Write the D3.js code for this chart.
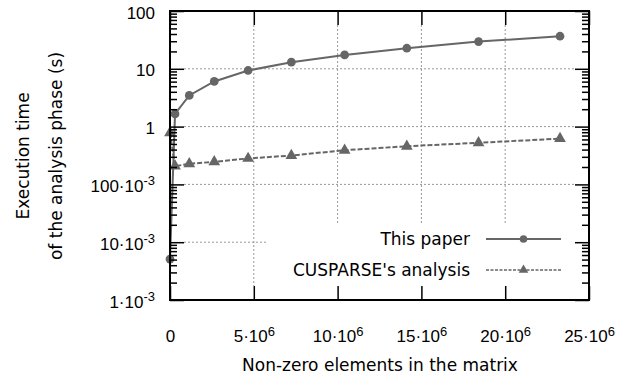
<!DOCTYPE html>
<html>
<head>
<meta charset="utf-8">
<script src="https://cdn.jsdelivr.net/npm/d3@7"></script>
<style>
  html, body { margin: 0; padding: 0; background: #fff; }
  svg { display: block; font-family: "DejaVu Sans", sans-serif; }
</style>
</head>
<body>
<svg id="chart" width="633" height="381"></svg>
<script>
// chart data
const nnz = [0, 0.3e6, 1.15e6, 2.64e6, 4.66e6, 7.24e6, 10.42e6, 14.13e6, 18.41e6, 23.27e6];
const thisPaper = [0.0051, 1.66, 3.46, 6.04, 9.35, 13.0, 17.4, 22.7, 29.6, 36.6];
const cusparse = [0.78, 0.207, 0.227, 0.246, 0.281, 0.316, 0.39, 0.457, 0.524, 0.62];
const seriesNames = ["This paper", "CUSPARSE's analysis"];

const xTicks = [0, 5e6, 10e6, 15e6, 20e6, 25e6];
const xTickLabels = [["0", ""], ["5·10", "6"], ["10·10", "6"], ["15·10", "6"], ["20·10", "6"], ["25·10", "6"]];
const yTicks = [1e-3, 1e-2, 1e-1, 1, 10, 100];
const yTickLabels = [["1·10", "-3"], ["10·10", "-3"], ["100·10", "-3"], ["1", ""], ["10", ""], ["100", ""]];

const svg = d3.select("#chart");
const plotL = 170, plotR = 589, plotT = 11, plotB = 300;
const lineColor = "#666";
const fs = 17;

const x = d3.scaleLinear().domain([0, 25e6]).range([plotL, plotR]);
const y = d3.scaleLog().domain([1e-3, 100]).range([plotB, plotT]);

// minor ticks on the log axis (2..9 of every decade)
const minorY = [];
yTicks.slice(0, -1).forEach(d => { for (let k = 2; k <= 9; k++) minorY.push(d * k); });

// grid
const grid = svg.append("g").attr("stroke", "#999").attr("stroke-width", 1).attr("stroke-dasharray", "2,2");
grid.selectAll(".gx").data(xTicks.slice(1, -1)).join("line")
  .attr("x1", d => x(d)).attr("x2", d => x(d)).attr("y1", plotT + 14).attr("y2", plotB - 14);
grid.selectAll(".gy").data(yTicks.slice(1, -1)).join("line")
  .attr("y1", d => y(d)).attr("y2", d => y(d)).attr("x1", plotL + 14).attr("x2", plotR - 14);

// legend box is opaque
svg.append("rect").attr("x", 266).attr("y", 224).attr("width", plotR - 266).attr("height", 62).attr("fill", "#fff");

// series
const series = [
  { name: seriesNames[0], values: thisPaper, dash: null, marker: d3.symbolCircle },
  { name: seriesNames[1], values: cusparse, dash: "5,2", marker: d3.symbolTriangle }
];
const line = d3.line().x(d => x(d[0])).y(d => y(d[1]));
series.forEach(s => {
  const pts = nnz.map((n, i) => [n, s.values[i]]);
  svg.append("path").datum(pts)
    .attr("fill", "none").attr("stroke", lineColor).attr("stroke-width", 2)
    .attr("stroke-dasharray", s.dash).attr("d", line);
  svg.append("g").selectAll("path").data(pts).join("path")
    .attr("transform", d => `translate(${x(d[0])},${y(d[1])})`)
    .attr("d", d3.symbol(s.marker, 60)).attr("fill", lineColor);
});

// axes (ticks point inward, mirrored on top / right)
function styleAxis(g) {
  g.select(".domain").remove();
  g.selectAll(".tick line").attr("stroke", "#000").attr("stroke-width", 1.5);
}
const xAxis = svg.append("g").attr("transform", `translate(0,${plotB})`)
  .call(d3.axisBottom(x).tickValues(xTicks).tickSize(-14).tickPadding(30))
  .call(styleAxis);
svg.append("g").attr("transform", `translate(0,${plotT})`)
  .call(d3.axisTop(x).tickValues(xTicks).tickSize(-14).tickFormat(""))
  .call(styleAxis);
const yAxis = svg.append("g").attr("transform", `translate(${plotL},0)`)
  .call(d3.axisLeft(y).tickValues(yTicks).tickSize(-14).tickPadding(15))
  .call(styleAxis);
svg.append("g").attr("transform", `translate(${plotR},0)`)
  .call(d3.axisRight(y).tickValues(yTicks).tickSize(-14).tickFormat(""))
  .call(styleAxis);
svg.append("g").attr("transform", `translate(${plotL},0)`)
  .call(d3.axisLeft(y).tickValues(minorY).tickSize(-7).tickFormat(""))
  .call(styleAxis);
svg.append("g").attr("transform", `translate(${plotR},0)`)
  .call(d3.axisRight(y).tickValues(minorY).tickSize(-7).tickFormat(""))
  .call(styleAxis);

function powerLabel(text, parts) {
  text.text(null);
  text.append("tspan").text(parts[0]);
  if (parts[1]) text.append("tspan").attr("dy", "-0.5em").attr("font-size", "13px").text(parts[1]);
}
xAxis.selectAll(".tick text")
  .attr("font-size", fs).attr("font-family", null).attr("fill", "#000").attr("dy", null).attr("y", 42)
  .each(function(d, i) { powerLabel(d3.select(this), xTickLabels[i]); });
yAxis.selectAll(".tick text")
  .attr("font-size", fs).attr("font-family", null).attr("fill", "#000").attr("dy", null).attr("y", 7)
  .each(function(d, i) { powerLabel(d3.select(this), yTickLabels[i]); });

// frame
svg.append("rect").attr("x", plotL).attr("y", plotT).attr("width", plotR - plotL).attr("height", plotB - plotT)
  .attr("fill", "none").attr("stroke", "#000").attr("stroke-width", 2);

// axis titles
svg.append("text").attr("x", 380).attr("y", 371).attr("text-anchor", "middle")
  .attr("font-size", fs).text("Non-zero elements in the matrix");
const yt = svg.append("text").attr("transform", "translate(29,156) rotate(-90)")
  .attr("text-anchor", "middle").attr("font-size", fs);
yt.append("tspan").attr("x", 0).attr("y", 0).text("Execution time");
yt.append("tspan").attr("x", 0).attr("y", 33).text("of the analysis phase (s)");

// legend
series.forEach((s, i) => {
  const ly = 239 + i * 31;
  svg.append("text").attr("x", 470).attr("y", ly + 6).attr("text-anchor", "end")
    .attr("font-size", fs).text(s.name);
  svg.append("line").attr("x1", 486).attr("x2", 561).attr("y1", ly).attr("y2", ly)
    .attr("stroke", lineColor).attr("stroke-width", i === 0 ? 2 : 1.5)
    .attr("stroke-dasharray", i === 0 ? null : "3,1.5");
  svg.append("path").attr("transform", `translate(523.5,${ly})`)
    .attr("d", d3.symbol(s.marker, i === 0 ? 45 : 40)).attr("fill", lineColor);
});
</script>
</body>
</html>
